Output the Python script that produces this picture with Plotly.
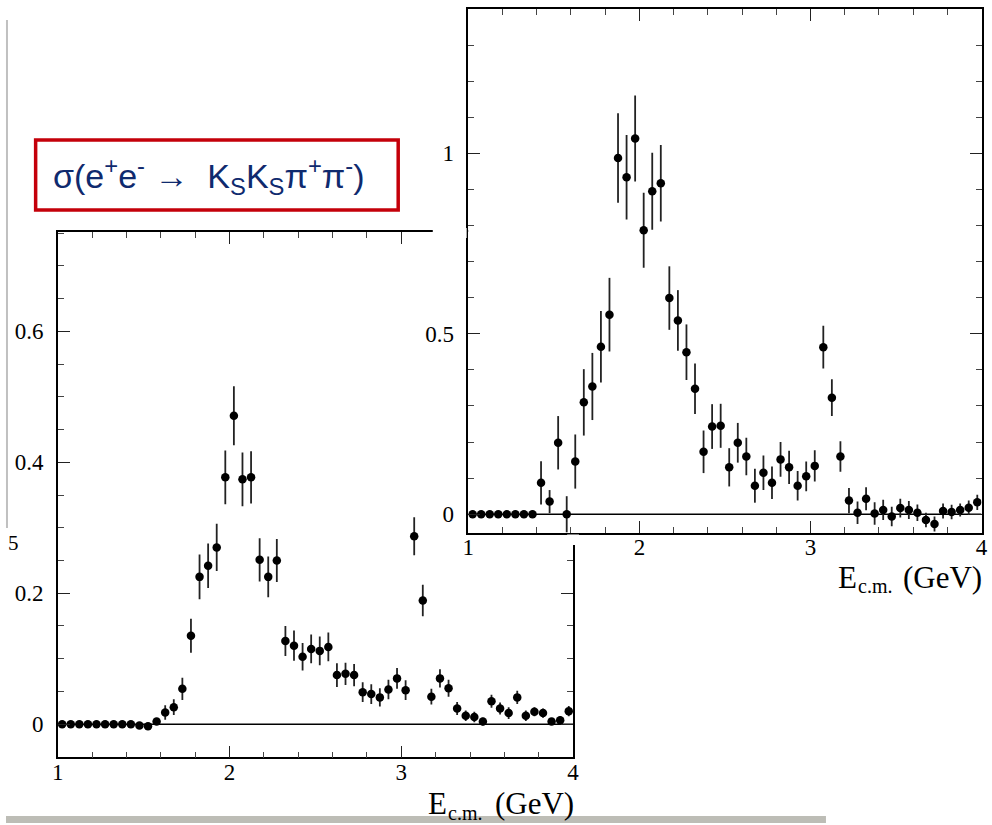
import plotly.graph_objects as go

W, H = 992, 825

# ---------------- data ----------------
energy = [1.025, 1.075, 1.125, 1.175, 1.225, 1.275, 1.325, 1.375, 1.425, 1.475,
          1.525, 1.575, 1.625, 1.675, 1.725, 1.775, 1.825, 1.875, 1.925, 1.975,
          2.025, 2.075, 2.125, 2.175, 2.225, 2.275, 2.325, 2.375, 2.425, 2.475,
          2.525, 2.575, 2.625, 2.675, 2.725, 2.775, 2.825, 2.875, 2.925, 2.975,
          3.025, 3.075, 3.125, 3.175, 3.225, 3.275, 3.325, 3.375, 3.425, 3.475,
          3.525, 3.575, 3.625, 3.675, 3.725, 3.775, 3.825, 3.875, 3.925, 3.975]

# lower-left panel
sigma_left = [0, 0, 0, 0, 0, 0, 0, 0, 0, -0.002,
              -0.003, 0.004, 0.018, 0.026, 0.054, 0.135, 0.225, 0.242, 0.270, 0.377,
              0.471, 0.374, 0.377, 0.251, 0.225, 0.250, 0.127, 0.120, 0.103, 0.115,
              0.112, 0.118, 0.075, 0.077, 0.075, 0.049, 0.046, 0.041, 0.053, 0.070,
              0.052, 0.287, 0.189, 0.042, 0.070, 0.055, 0.024, 0.013, 0.011, 0.004,
              0.035, 0.024, 0.017, 0.041, 0.013, 0.019, 0.017, 0.004, 0.006, 0.020]
err_left = [0.002, 0.002, 0.002, 0.002, 0.002, 0.002, 0.002, 0.002, 0.002, 0.002,
            0.002, 0.003, 0.011, 0.012, 0.017, 0.026, 0.034, 0.034, 0.036, 0.041,
            0.045, 0.041, 0.040, 0.033, 0.031, 0.033, 0.023, 0.023, 0.021, 0.022,
            0.022, 0.022, 0.018, 0.017, 0.017, 0.015, 0.015, 0.014, 0.015, 0.016,
            0.015, 0.029, 0.024, 0.012, 0.014, 0.013, 0.010, 0.008, 0.008, 0.006,
            0.010, 0.009, 0.009, 0.010, 0.008, 0.007, 0.007, 0.005, 0.006, 0.008]

# upper-right panel
sigma_right = [0, 0, 0, 0, 0, 0, 0, 0, 0.087, 0.035,
               0.198, 0.0, 0.146, 0.310, 0.354, 0.464, 0.553, 0.987, 0.934, 1.041,
               0.787, 0.895, 0.917, 0.599, 0.537, 0.449, 0.348, 0.173, 0.243, 0.245,
               0.130, 0.198, 0.160, 0.079, 0.115, 0.087, 0.152, 0.130, 0.079, 0.105,
               0.134, 0.463, 0.323, 0.160, 0.038, 0.004, 0.043, 0.002, 0.012, -0.006,
               0.017, 0.012, 0.004, -0.016, -0.027, 0.009, 0.006, 0.012, 0.018, 0.033]
err_right = [0.003, 0.003, 0.003, 0.003, 0.003, 0.003, 0.003, 0.003, 0.060, 0.032,
             0.074, 0.050, 0.075, 0.092, 0.093, 0.099, 0.102, 0.124, 0.117, 0.119,
             0.104, 0.107, 0.106, 0.088, 0.084, 0.077, 0.070, 0.059, 0.062, 0.061,
             0.053, 0.055, 0.052, 0.047, 0.048, 0.045, 0.048, 0.046, 0.041, 0.041,
             0.043, 0.059, 0.051, 0.042, 0.035, 0.031, 0.032, 0.031, 0.028, 0.027,
             0.026, 0.025, 0.023, 0.020, 0.021, 0.021, 0.020, 0.018, 0.020, 0.021]

x_range = [1, 4]
left_y_range = [-0.0505, 0.7516]
right_y_range = [-0.052, 1.40]

title_html = ("σ(e<sup>+</sup>e<sup>-</sup> →  K<sub>S</sub>K<sub>S</sub>"
              "π<sup>+</sup>π<sup>-</sup>)")
axis_title_main = "E"
axis_title_sub = "c.m."
axis_title_unit = "(GeV)"

# ---------------- helpers ----------------
def px(x):
    return x / W

def py(y):
    return 1 - y / H

SERIF = "Liberation Serif"
tickfont = dict(family=SERIF, size=23, color="black")

def xaxis_cfg(dom):
    return dict(range=x_range, domain=dom, tickmode="linear", tick0=1, dtick=1,
                ticks="inside", ticklen=12, tickwidth=1, tickcolor="#222",
                mirror="ticks", showline=True, linecolor="black", linewidth=1.6,
                showgrid=False, zeroline=False, tickfont=tickfont,
                ticklabelstandoff=-7, fixedrange=True,
                minor=dict(tickmode="linear", tick0=1, dtick=0.2, ticks="inside",
                           ticklen=6, tickwidth=1, tickcolor="#444",
                           showgrid=False))

def yaxis_cfg(dom, rng, dt, minor_dt, standoff):
    return dict(range=rng, domain=dom, tickmode="linear", tick0=0, dtick=dt,
                ticks="inside", ticklen=12, tickwidth=1, tickcolor="#222",
                mirror="ticks", showline=True, linecolor="black", linewidth=1.6,
                showgrid=False, zeroline=False, tickfont=tickfont,
                ticklabelstandoff=standoff, fixedrange=True,
                minor=dict(tickmode="linear", tick0=0, dtick=minor_dt,
                           ticks="inside", ticklen=6, tickwidth=1,
                           tickcolor="#444", showgrid=False))

fig = go.Figure()

marker = dict(color="black", size=8.5)

def errstyle(e):
    return dict(type="data", array=e, visible=True, width=0,
                thickness=1.8, color="#222")

fig.add_trace(go.Scatter(x=energy, y=sigma_left, mode="markers", marker=marker,
                         error_y=errstyle(err_left), xaxis="x", yaxis="y",
                         showlegend=False, hoverinfo="skip"))
fig.add_trace(go.Scatter(x=energy, y=sigma_right, mode="markers", marker=marker,
                         error_y=errstyle(err_right), xaxis="x2", yaxis="y2",
                         showlegend=False, hoverinfo="skip"))

shapes = []
# zero line, lower-left panel
shapes.append(dict(type="line", xref="x", yref="y", x0=1, x1=4, y0=0, y1=0,
                   line=dict(color="black", width=1.6), layer="below"))
# white backing of the upper-right panel (covers the panel beneath)
shapes.append(dict(type="rect", xref="x2", yref="y2", x0=1, x1=4,
                   y0=right_y_range[0], y1=right_y_range[1],
                   fillcolor="white", line=dict(width=0), layer="below"))
# zero line, upper-right panel
shapes.append(dict(type="line", xref="x2", yref="y2", x0=1, x1=4, y0=0, y1=0,
                   line=dict(color="black", width=1.6), layer="below"))
# small white patches where the upper panel's margin hides the lower frame
shapes.append(dict(type="rect", xref="paper", yref="paper",
                   x0=px(432), x1=px(466.3), y0=py(238), y1=py(228),
                   fillcolor="white", line=dict(width=0), layer="above"))
shapes.append(dict(type="rect", xref="paper", yref="paper",
                   x0=px(568), x1=px(580), y0=py(545), y1=py(534.5),
                   fillcolor="white", line=dict(width=0), layer="above"))
# red title box
shapes.append(dict(type="rect", xref="paper", yref="paper",
                   x0=px(30), x1=px(397), y0=py(210), y1=py(140),
                   fillcolor="white", line=dict(color="#c4000a", width=3.5),
                   layer="above"))
# slide remnants: grey vertical edge and grey strip at bottom
shapes.append(dict(type="line", xref="paper", yref="paper",
                   x0=px(1), x1=px(1), y0=py(20), y1=py(528),
                   line=dict(color="#c0c0c0", width=2), layer="above"))
shapes.append(dict(type="rect", xref="paper", yref="paper",
                   x0=0, x1=px(830), y0=py(823), y1=py(816),
                   fillcolor="#bdbdb6", line=dict(width=0), layer="above"))


def axis_title(e_left, unit_right, bottom, sub_bottom):
    f_main = dict(family=SERIF, size=31, color="black")
    f_sub = dict(family=SERIF, size=20, color="black")
    return [
        dict(text=axis_title_main, xref="paper", yref="paper", x=px(e_left),
             y=py(bottom), xanchor="left", yanchor="bottom", showarrow=False,
             font=f_main, borderpad=0),
        dict(text=axis_title_sub, xref="paper", yref="paper", x=px(e_left + 20),
             y=py(sub_bottom), xanchor="left", yanchor="bottom",
             showarrow=False, font=f_sub, borderpad=0),
        dict(text=axis_title_unit, xref="paper", yref="paper", x=px(unit_right),
             y=py(bottom), xanchor="right", yanchor="bottom", showarrow=False,
             font=f_main, borderpad=0),
    ]


annotations = [
    dict(text=title_html, xref="paper", yref="paper", x=px(46), y=py(176),
         xanchor="left", yanchor="middle", showarrow=False,
         font=dict(family="Liberation Sans", size=34, color="#0f2a6e")),
    dict(text="5", xref="paper", yref="paper", x=px(0), y=py(543),
         xanchor="left", yanchor="middle", showarrow=False,
         font=dict(family=SERIF, size=21, color="black")),
]
annotations += axis_title(841, 989, 596, 598)
annotations += axis_title(426, 576, 822, 825)

fig.update_layout(
    width=W, height=H,
    margin=dict(l=0, r=0, t=0, b=0),
    paper_bgcolor="white", plot_bgcolor="white",
    xaxis=xaxis_cfg([px(52.5), px(574)]) | dict(anchor="y"),
    yaxis=yaxis_cfg([py(757.3), py(232)], left_y_range, 0.2, 0.05, 8)
          | dict(anchor="x"),
    xaxis2=xaxis_cfg([px(468), px(987.5)]) | dict(anchor="y2"),
    yaxis2=yaxis_cfg([py(533), py(9)], right_y_range, 0.5, 0.1, 8)
           | dict(anchor="x2"),
    shapes=shapes,
    annotations=annotations,
)

fig.write_html("out.html")
